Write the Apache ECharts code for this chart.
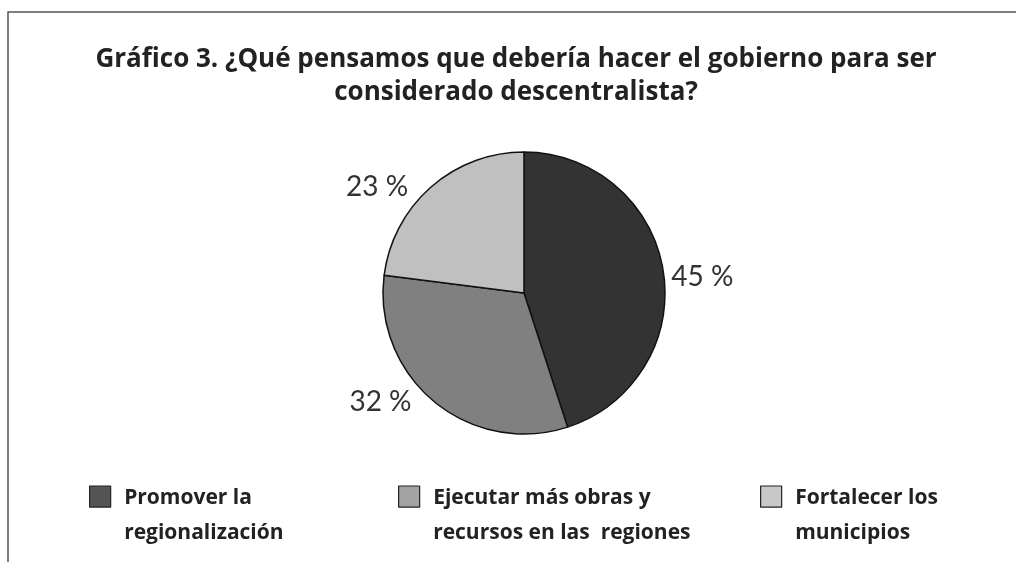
<!DOCTYPE html>
<html>
<head>
<meta charset="utf-8">
<script src="https://cdn.jsdelivr.net/npm/echarts@6/dist/echarts.min.js"></script>
<style>
  html, body { margin: 0; padding: 0; background: #fff; }
  #chart { width: 1016px; height: 562px; }
</style>
</head>
<body>
<div id="chart"></div>
<script>
var categories = ["Promover la\nregionalización", "Ejecutar más obras y\nrecursos en las  regiones", "Fortalecer los\nmunicipios"];
var values = [45, 32, 23];
var sliceColors = ["#333333", "#808080", "#c0c0c0"];
var legendColors = ["#555555", "#a3a3a3", "#c8c8c8"];
var legendLeft = [89, 398, 760];

var myChart = echarts.init(document.getElementById("chart"));

// una leyenda por categoría; el icono lleva el cuadro arriba (junto a la primera línea)
var legends = categories.map(function (name, i) {
  return {
    left: legendLeft[i],
    top: 481,
    padding: 0,
    orient: "horizontal",
    selectedMode: false,
    itemWidth: 22,
    itemHeight: 60,
    itemGap: 0,
    icon: "path://M0,0H20V20H0Z M0,57",
    textStyle: {
      fontFamily: "Open Sans",
      fontWeight: "bold",
      fontSize: 21,
      color: "#222",
      lineHeight: 35,
      padding: [0, 0, 0, 8]
    },
    data: [{
      name: name,
      itemStyle: { color: legendColors[i], borderColor: "#222", borderWidth: 1.2 }
    }]
  };
});

var option = {
  backgroundColor: "#fff",
  animation: false,
  title: {
    text: "Gráfico 3. ¿Qué pensamos que debería hacer el gobierno para ser\nconsiderado descentralista?",
    left: 511,
    top: 38,
    textAlign: "center",
    textStyle: {
      fontFamily: "Open Sans",
      fontWeight: "bold",
      fontSize: 26,
      lineHeight: 33,
      color: "#222"
    }
  },
  legend: legends,
  graphic: [{
    type: "polyline",
    shape: { points: [[8, 562], [8, 12], [1016, 12]] },
    style: { stroke: "#555", lineWidth: 1.5, fill: null }
  }],
  series: [{
    type: "pie",
    center: [524, 293],
    radius: 141,
    startAngle: 90,
    clockwise: true,
    color: sliceColors,
    itemStyle: { borderColor: "#111", borderWidth: 1.5 },
    label: {
      show: true,
      position: "outside",
      formatter: "{c} %",
      fontFamily: "Lato",
      fontSize: 28,
      color: "#333"
    },
    labelLine: { show: false, length: 1, length2: 2 },
    // la etiqueta de la derecha baja un poco
    labelLayout: function (params) {
      return params.dataIndex === 0 ? { dy: 6 } : {};
    },
    emphasis: { disabled: true },
    data: categories.map(function (name, i) {
      // las etiquetas de la izquierda quedan algo más separadas del círculo
      var pad = i === 0 ? 0 : [0, 15, 0, 0];
      return { name: name, value: values[i], label: { padding: pad } };
    })
  }]
};

option && myChart.setOption(option);
</script>
</body>
</html>
